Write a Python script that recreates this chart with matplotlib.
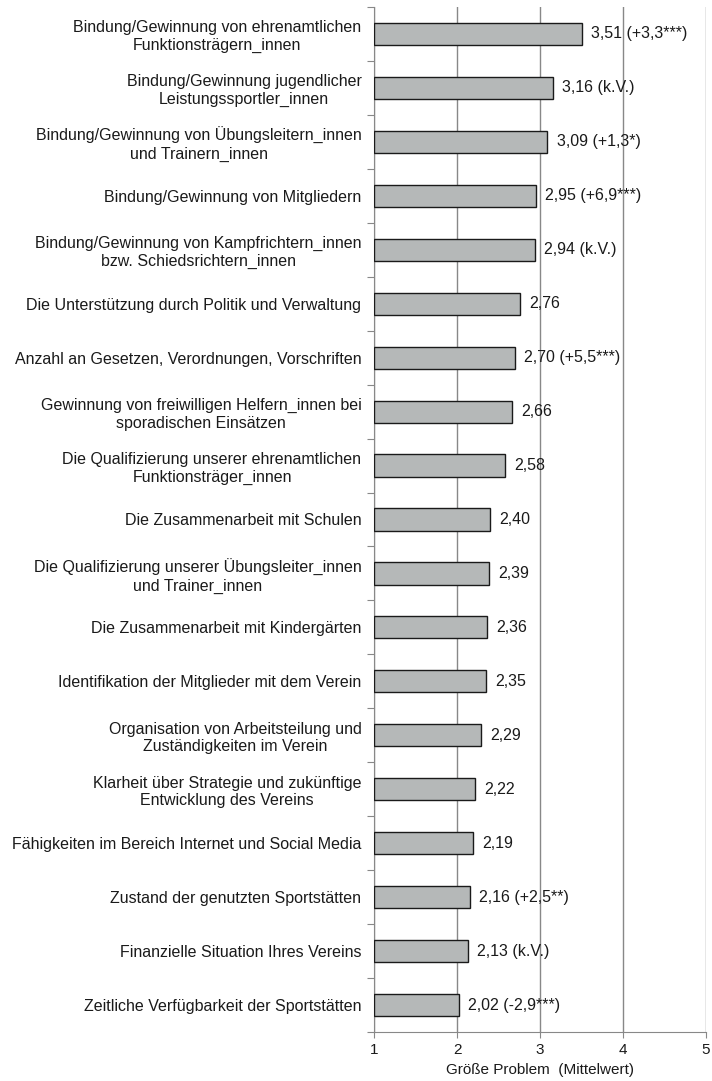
import matplotlib.pyplot as plt
import numpy as np

plt.rcParams['font.family'] = ['Liberation Sans', 'DejaVu Sans']

labels = [
    "Bindung/Gewinnung von ehrenamtlichen\nFunktionsträgern_innen",
    "Bindung/Gewinnung jugendlicher\nLeistungssportler_innen",
    "Bindung/Gewinnung von Übungsleitern_innen\nund Trainern_innen",
    "Bindung/Gewinnung von Mitgliedern",
    "Bindung/Gewinnung von Kampfrichtern_innen\nbzw. Schiedsrichtern_innen",
    "Die Unterstützung durch Politik und Verwaltung",
    "Anzahl an Gesetzen, Verordnungen, Vorschriften",
    "Gewinnung von freiwilligen Helfern_innen bei\nsporadischen Einsätzen",
    "Die Qualifizierung unserer ehrenamtlichen\nFunktionsträger_innen",
    "Die Zusammenarbeit mit Schulen",
    "Die Qualifizierung unserer Übungsleiter_innen\nund Trainer_innen",
    "Die Zusammenarbeit mit Kindergärten",
    "Identifikation der Mitglieder mit dem Verein",
    "Organisation von Arbeitsteilung und\nZuständigkeiten im Verein",
    "Klarheit über Strategie und zukünftige\nEntwicklung des Vereins",
    "Fähigkeiten im Bereich Internet und Social Media",
    "Zustand der genutzten Sportstätten",
    "Finanzielle Situation Ihres Vereins",
    "Zeitliche Verfügbarkeit der Sportstätten",
]
values = [3.51, 3.16, 3.09, 2.95, 2.94, 2.76, 2.70, 2.66, 2.58, 2.40,
          2.39, 2.36, 2.35, 2.29, 2.22, 2.19, 2.16, 2.13, 2.02]
changes = ["(+3,3***)", "(k.V.)", "(+1,3*)", "(+6,9***)", "(k.V.)", "", "(+5,5***)",
           "", "", "", "", "", "", "", "", "", "(+2,5**)", "(k.V.)", "(-2,9***)"]

fig = plt.figure(figsize=(7.12, 10.81), dpi=100)
ax = fig.add_axes([374 / 712, 1 - 1032 / 1081, 332 / 712, 1025 / 1081])

n = len(values)
y = np.arange(n)
base = 1
ax.barh(y, [v - base for v in values], left=base, height=0.41,
        color='#b5b8b8', edgecolor='#1a1a1a', linewidth=1.0, zorder=3)

for yi, v, c in zip(y, values, changes):
    txt = ("%.2f" % v).replace('.', ',')
    if c:
        txt += " " + c
    ax.text(v + 0.11, yi, txt, va='center', ha='left', fontsize=11.5, color='#1a1a1a', zorder=4)

ax.set_xlim(1, 5)
ax.set_ylim(n - 0.5, -0.5)
ax.set_xticks([1, 2, 3, 4, 5])
ax.tick_params(axis='x', length=4, color='#888888', labelsize=11, pad=4, labelcolor='#1a1a1a')
ax.xaxis.grid(True, color='#888888', linewidth=1.0, zorder=0)
ax.set_xlabel("Größe Problem  (Mittelwert)", fontsize=11, labelpad=4, color='#1a1a1a')

# category boundaries as major ticks, labels at the centres
ax.set_yticks(np.arange(-0.5, n, 1.0))
ax.set_yticklabels([])
ax.tick_params(axis='y', which='major', length=5, color='#888888')
ax.set_yticks(y, minor=True)
ax.set_yticklabels(labels, minor=True, fontsize=11.5, color='#1a1a1a',
                   multialignment='center', linespacing=1.22)
ax.tick_params(axis='y', which='minor', length=0, pad=9)

for s in ['top', 'right']:
    ax.spines[s].set_visible(False)
for s in ['left', 'bottom']:
    ax.spines[s].set_color('#888888')

fig.savefig("out.png", dpi=100)
